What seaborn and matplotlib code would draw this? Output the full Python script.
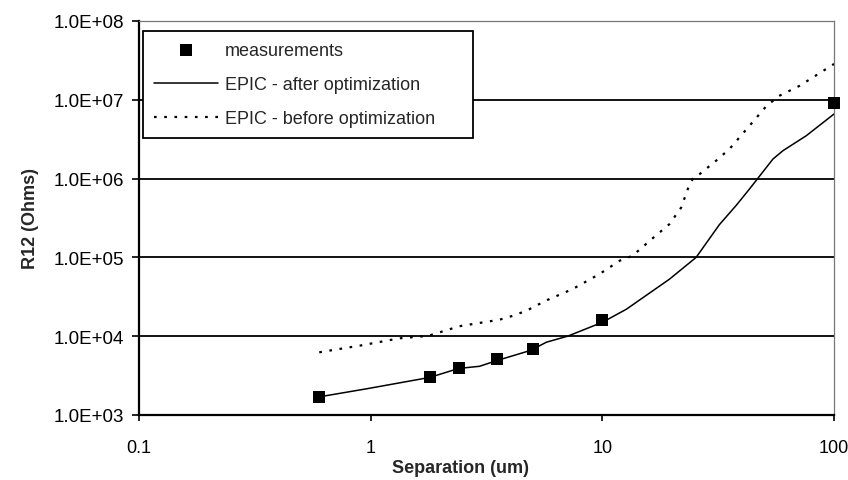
import numpy as np
import pandas as pd
import matplotlib
matplotlib.use("Agg")
import matplotlib.pyplot as plt
from matplotlib.ticker import FuncFormatter, FixedLocator, NullLocator
import seaborn as sns

# Measured coupling resistance vs. contact separation
meas_sep = [0.6, 1.8, 2.4, 3.5, 5.0, 10.0, 100.0]
meas_r12 = [1.7e3, 3.0e3, 3.95e3, 5.2e3, 6.8e3, 1.62e4, 9.1e6]

# EPIC simulation with optimized parameters
after_sep = [0.6, 0.96, 1.8, 2.4, 2.95, 3.5, 4.9, 5.74, 7.08, 10.0, 12.7,
             19.5, 25.4, 32.0, 37.9, 43.2, 54.5, 60.2, 75.9, 100.0]
after_r12 = [1.7e3, 2.15e3, 3.0e3, 3.9e3, 4.15e3, 4.9e3, 6.6e3, 8.4e3, 1.0e4,
             1.5e4, 2.2e4, 5.3e4, 1.0e5, 2.6e5, 4.6e5, 7.4e5, 1.77e6, 2.26e6,
             3.5e6, 6.6e6]

# EPIC simulation with the initial parameters
before_sep = [0.6, 0.9, 1.33, 1.77, 2.42, 3.6, 4.12, 4.69, 5.74, 7.45, 9.73,
              11.9, 13.5, 16.5, 19.5, 21.9, 23.4, 24.6, 26.3, 31.0, 35.4, 43.2,
              51.2, 58.3, 71.2, 100.0]
before_r12 = [6.25e3, 7.6e3, 9.4e3, 1.01e4, 1.34e4, 1.62e4, 1.82e4, 2.1e4,
              2.85e4, 3.97e4, 6.16e4, 9.1e4, 1.05e5, 1.75e5, 2.65e5, 4.3e5,
              7.4e5, 1.0e6, 1.14e6, 1.69e6, 2.38e6, 4.69e6, 8.4e6, 1.13e7,
              1.51e7, 2.85e7]

x_ticks = [0.1, 1, 10, 100]
x_tick_labels = ["0.1", "1", "10", "100"]
y_ticks = [1e3, 1e4, 1e5, 1e6, 1e7, 1e8]

sns.set_theme(style="white")
plt.rcParams["font.family"] = ["Liberation Sans", "DejaVu Sans"]

fig = plt.figure(figsize=(8.48, 4.81), dpi=100)
ax = fig.add_axes([139 / 848, 1 - 416 / 481, (834 - 139) / 848, (416 - 22) / 481])

ax.set_xscale("log")
ax.set_yscale("log")

sns.lineplot(x=after_sep, y=after_r12, ax=ax, color="black", lw=1.1,
             sort=False, estimator=None, label="EPIC - after optimization",
             zorder=3)
sns.lineplot(x=before_sep, y=before_r12, ax=ax, color="black", lw=1.6,
             sort=False, estimator=None, label="EPIC - before optimization",
             linestyle=(0, (1.2, 3.4)), zorder=3)
sns.scatterplot(x=meas_sep, y=meas_r12, ax=ax, marker="s", s=85,
                color="black", edgecolor="black", linewidth=0,
                label="measurements", zorder=5, clip_on=False)

ax.set_xlim(0.1, 100)
ax.set_ylim(1e3, 1e8)

ax.xaxis.set_major_locator(FixedLocator(x_ticks))
ax.xaxis.set_minor_locator(NullLocator())
ax.xaxis.set_major_formatter(FuncFormatter(
    lambda v, p: x_tick_labels[x_ticks.index(v)] if v in x_ticks else ""))
ax.yaxis.set_major_locator(FixedLocator(y_ticks))
ax.yaxis.set_minor_locator(NullLocator())
ax.yaxis.set_major_formatter(FuncFormatter(lambda v, p: f"{v:.1E}"))

ax.tick_params(axis="y", direction="out", length=5, width=1.2, color="black",
               left=True, labelsize=13.5, pad=6, labelcolor="black")
ax.tick_params(axis="x", direction="out", length=4, width=1.2, color="black",
               bottom=True, labelsize=13, pad=13, labelcolor="black")

# horizontal gridlines at each decade
ax.yaxis.grid(True, color="black", lw=1.3)
ax.xaxis.grid(False)
grid_lines = ax.get_ygridlines()
for gl, t in zip(grid_lines, y_ticks):
    if t in (y_ticks[0], y_ticks[-1]):
        gl.set_visible(False)
ax.set_axisbelow(True)

for side in ("left", "bottom"):
    ax.spines[side].set_color("black")
    ax.spines[side].set_linewidth(1.6)
for side in ("top", "right"):
    ax.spines[side].set_color("#777777")
    ax.spines[side].set_linewidth(0.9)

ax.set_xlabel("Separation (um)", fontsize=13, fontweight="bold")
ax.set_ylabel("R12 (Ohms)", fontsize=13, fontweight="bold")
ax.xaxis.set_label_coords((461 - 139) / 695, (416 - 460) / 394)
ax.yaxis.set_label_coords((39 - 139) / 695, 0.5)

handles, labels = ax.get_legend_handles_labels()
order = [labels.index(n) for n in
         ["measurements", "EPIC - after optimization", "EPIC - before optimization"]]
leg_top = (416 - 32) / 394
leg_bottom = (416 - 133) / 394
leg = ax.legend([handles[i] for i in order], [labels[i] for i in order],
                loc="upper left",
                bbox_to_anchor=(4 / 695, leg_bottom, 330 / 695, leg_top - leg_bottom),
                mode="expand", borderaxespad=0, fontsize=13, frameon=True,
                fancybox=False, edgecolor="black", framealpha=1,
                handlelength=3.55, handletextpad=0.4, labelspacing=0.95,
                borderpad=0.6, scatterpoints=1)
leg.get_frame().set_linewidth(1.3)
leg.set_zorder(10)

fig.savefig("out.png", dpi=100, facecolor="white")
